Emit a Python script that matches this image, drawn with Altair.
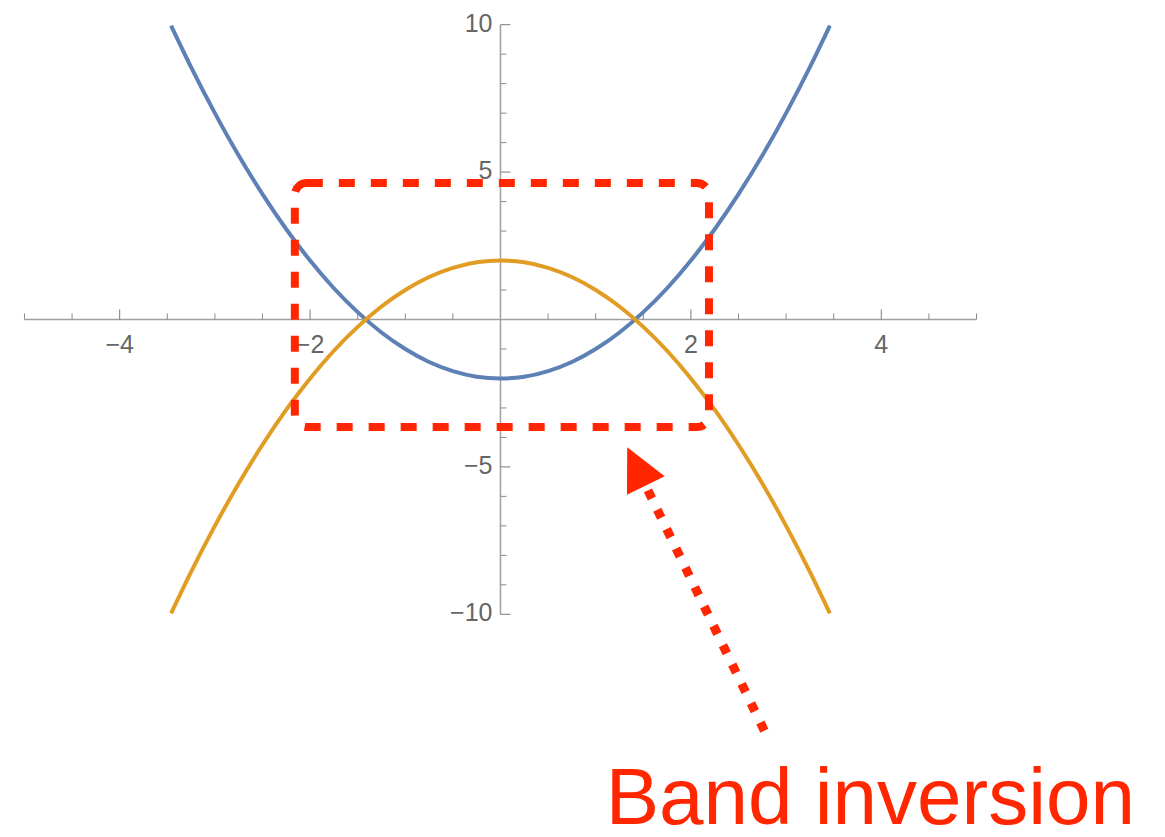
import altair as alt
import pandas as pd

# ---- data ----
xs = [-3.46, -3.25, -3.0, -2.75, -2.5, -2.25, -2.0, -1.75, -1.5, -1.25, -1.0, -0.75, -0.5, -0.25, 0.0,
      0.25, 0.5, 0.75, 1.0, 1.25, 1.5, 1.75, 2.0, 2.25, 2.5, 2.75, 3.0, 3.25, 3.46]
blue_y = [9.97, 8.56, 7.0, 5.56, 4.25, 3.06, 2.0, 1.06, 0.25, -0.44, -1.0, -1.44, -1.75, -1.94, -2.0,
          -1.94, -1.75, -1.44, -1.0, -0.44, 0.25, 1.06, 2.0, 3.06, 4.25, 5.56, 7.0, 8.56, 9.97]
orange_y = [-9.97, -8.56, -7.0, -5.56, -4.25, -3.06, -2.0, -1.06, -0.25, 0.44, 1.0, 1.44, 1.75, 1.94, 2.0,
            1.94, 1.75, 1.44, 1.0, 0.44, -0.25, -1.06, -2.0, -3.06, -4.25, -5.56, -7.0, -8.56, -9.97]

x_major_ticks = [-4, -2, 2, 4]
x_tick_labels = ["−4", "−2", "2", "4"]
x_minor_ticks = [-5, -4.5, -3.5, -3, -2.5, -1.5, -1, -0.5, 0.5, 1, 1.5, 2.5, 3, 3.5, 4.5, 5]
y_major_ticks = [-10, -5, 5, 10]
y_tick_labels = ["−10", "−5", "5", "10"]
y_minor_ticks = [-9, -8, -7, -6, -4, -3, -2, -1, 1, 2, 3, 4, 6, 7, 8, 9]

x_axis_range = [-5, 5]
y_axis_range = [-10, 10]

# highlighted box (data units)
box_x = [-2.16]
box_x2 = [2.19]
box_y = [4.63]
box_y2 = [-3.65]

# arrow (data units)
arrow_tail = [2.771, -13.948]
arrow_end = [1.486, -5.377]
arrow_head = [1.43, -4.99]

label_text = ["Band inversion"]
label_pos = [1.105, -17.1]

RED = "#FF2600"
BLUE = "#5E81B5"
ORANGE = "#E19C24"
FONT = "Liberation Sans"

xsc = alt.Scale(domain=[-5.173, 6.896], nice=False, zero=False)
ysc = alt.Scale(domain=[-17.283, 10.566], nice=False, zero=False)

def X(f):
    return alt.X(f, type="quantitative", scale=xsc, axis=None)

def Y(f):
    return alt.Y(f, type="quantitative", scale=ysc, axis=None)

# axes
xaxis = alt.Chart(pd.DataFrame({"x": [x_axis_range[0]], "x2": [x_axis_range[1]], "y": [0]})).mark_rule(
    color="#a0a0a0", strokeWidth=1.5).encode(x=X("x"), x2="x2", y=Y("y"))
yaxis = alt.Chart(pd.DataFrame({"x": [0], "y": [y_axis_range[0]], "y2": [y_axis_range[1]]})).mark_rule(
    color="#a0a0a0", strokeWidth=1.5).encode(x=X("x"), y=Y("y"), y2="y2")

xmin_t = alt.Chart(pd.DataFrame({"x": x_minor_ticks, "y": [0] * len(x_minor_ticks)})).mark_tick(
    orient="vertical", size=6, yOffset=-3, thickness=1, color="#8a8a8a", opacity=1).encode(x=X("x"), y=Y("y"))
xmaj_t = alt.Chart(pd.DataFrame({"x": x_major_ticks, "y": [0] * len(x_major_ticks)})).mark_tick(
    orient="vertical", size=10, yOffset=-5, thickness=1, color="#7a7a7a", opacity=1).encode(x=X("x"), y=Y("y"))
ymin_t = alt.Chart(pd.DataFrame({"y": y_minor_ticks, "x": [0] * len(y_minor_ticks)})).mark_tick(
    orient="horizontal", size=6, xOffset=3, thickness=1, color="#8a8a8a", opacity=1).encode(x=X("x"), y=Y("y"))
ymaj_t = alt.Chart(pd.DataFrame({"y": y_major_ticks, "x": [0] * len(y_major_ticks)})).mark_tick(
    orient="horizontal", size=10, xOffset=5, thickness=1, color="#7a7a7a", opacity=1).encode(x=X("x"), y=Y("y"))

xlab = alt.Chart(pd.DataFrame({"x": x_major_ticks, "y": [0] * 4, "t": x_tick_labels})).mark_text(
    align="center", baseline="alphabetic", dy=34, fontSize=25, font=FONT, color="#666666").encode(
    x=X("x"), y=Y("y"), text="t:N")
ylab = alt.Chart(pd.DataFrame({"y": y_major_ticks, "x": [0] * 4, "t": y_tick_labels})).mark_text(
    align="right", baseline="middle", dx=-8, dy=-1, fontSize=25, font=FONT, color="#666666").encode(
    x=X("x"), y=Y("y"), text="t:N")

blue = alt.Chart(pd.DataFrame({"x": xs, "y": blue_y})).mark_line(
    color=BLUE, strokeWidth=4, interpolate="monotone").encode(x=X("x"), y=Y("y"), order="x:Q")
orange = alt.Chart(pd.DataFrame({"x": xs, "y": orange_y})).mark_line(
    color=ORANGE, strokeWidth=4, interpolate="monotone").encode(x=X("x"), y=Y("y"), order="x:Q")

box = alt.Chart(pd.DataFrame({"x": box_x, "x2": box_x2, "y": box_y, "y2": box_y2})).mark_rect(
    filled=False, fillOpacity=0, stroke=RED, strokeWidth=8, strokeDash=[16, 16], cornerRadius=12,
    strokeCap="butt").encode(x=X("x"), x2="x2", y=Y("y"), y2="y2")

arrow_line = alt.Chart(pd.DataFrame({"x": [arrow_tail[0]], "y": [arrow_tail[1]],
                                     "x2": [arrow_end[0]], "y2": [arrow_end[1]]})).mark_rule(
    color=RED, strokeWidth=9, strokeDash=[9, 12.5], strokeCap="butt").encode(
    x=X("x"), y=Y("y"), x2="x2", y2="y2")

head = alt.Chart(pd.DataFrame({"x": [arrow_head[0]], "y": [arrow_head[1]]})).mark_point(
    shape="M0,-1.02L1,1L-1,1Z", size=1764, angle=334, filled=True, fill=RED, strokeWidth=0,
    opacity=1).encode(x=X("x"), y=Y("y"))

label = alt.Chart(pd.DataFrame({"x": [label_pos[0]], "y": [label_pos[1]], "t": label_text})).mark_text(
    align="left", baseline="alphabetic", fontSize=80, font=FONT, color=RED).encode(
    x=X("x"), y=Y("y"), text="t:N")

chart = alt.layer(
    xaxis, yaxis, xmin_t, xmaj_t, ymin_t, ymaj_t, xlab, ylab,
    blue, orange, box, arrow_line, head, label
).properties(
    width=1149, height=821, padding=0, autosize=alt.AutoSizeParams(type="none"),
    background="white"
).configure_view(stroke=None)

chart.save("out.html", embed_options={"renderer": "svg", "actions": False})
